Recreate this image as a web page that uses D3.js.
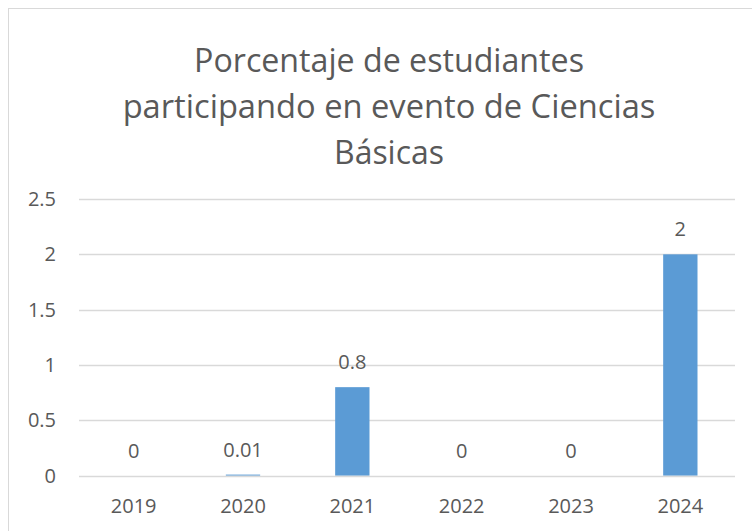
<!DOCTYPE html>
<html lang="es">
<head>
<meta charset="UTF-8">
<title>Porcentaje de estudiantes participando en evento de Ciencias Básicas</title>
<script src="https://cdnjs.cloudflare.com/ajax/libs/d3/7.8.5/d3.min.js"></script>
<style>
    body { margin: 0; background: #fff; overflow: hidden; }
    text { font-family: "Open Sans", "Noto Sans", sans-serif; fill: #595959; }
</style>
</head>
<body>
<div id="chart"></div>
<script>
// Data
const years = ["2019", "2020", "2021", "2022", "2023", "2024"];
const values = [0, 0.01, 0.8, 0, 0, 2];
const yTicks = [0, 0.5, 1, 1.5, 2, 2.5];
const titleLines = ["Porcentaje de estudiantes", "participando en evento de Ciencias", "Básicas"];

const width = 752, height = 531;
const plot = { left: 79, right: 735, top: 199, bottom: 475.7 };

const svg = d3.select("#chart").append("svg")
    .attr("width", width)
    .attr("height", height);

// chart frame (runs off right and bottom)
svg.append("rect")
    .attr("x", 8.5).attr("y", 8.5)
    .attr("width", 800).attr("height", 600)
    .attr("fill", "#fff")
    .attr("stroke", "#d9d9d9");

// title, each line sized to the width seen in the picture
const titleWidths = [390, 533, 110];
titleLines.forEach((line, i) => {
    const t = svg.append("text")
        .attr("x", 389)
        .attr("y", 72 + i * 46)
        .attr("text-anchor", "middle")
        .style("font-size", "30px")
        .text(line);
    const w = t.node().getComputedTextLength();
    t.style("font-size", (30 * titleWidths[i] / w).toFixed(2) + "px");
});

const x = d3.scaleBand()
    .domain(years)
    .range([plot.left, plot.right])
    .paddingInner(0.686)
    .paddingOuter(0.343);

const y = d3.scaleLinear()
    .domain([0, 2.5])
    .range([plot.bottom, plot.top]);

// gridlines (zero line drawn later, over the bars)
const grid = svg.append("g");
grid.selectAll("line")
    .data(yTicks.filter(d => d > 0))
    .join("line")
    .attr("x1", plot.left).attr("x2", plot.right)
    .attr("y1", d => Math.round(y(d)) + 0.5)
    .attr("y2", d => Math.round(y(d)) + 0.5)
    .attr("stroke", "#d9d9d9")
    .attr("stroke-width", 1.3);

// y axis labels
const yAxis = d3.axisLeft(y).tickValues(yTicks).tickSize(0).tickPadding(0)
    .tickFormat(d3.format("~g"));
svg.append("g")
    .attr("transform", `translate(56,0)`)
    .call(yAxis)
    .call(g => g.select(".domain").remove())
    .selectAll("text")
    .style("font-size", "20px")
    .attr("fill", "#595959");

// x axis labels
const xAxis = d3.axisBottom(x).tickSize(0).tickPadding(0);
svg.append("g")
    .attr("transform", `translate(0,${plot.bottom + 23})`)
    .call(xAxis)
    .call(g => g.select(".domain").remove())
    .selectAll("text")
    .style("font-size", "20px")
    .attr("fill", "#595959");

// bars
svg.append("g")
    .selectAll("rect")
    .data(values)
    .join("rect")
    .attr("x", (d, i) => x(years[i]))
    .attr("y", d => y(d))
    .attr("width", x.bandwidth())
    .attr("height", d => y(0) - y(d))
    .attr("fill", "#5b9bd5");

// category axis line
svg.append("line")
    .attr("x1", plot.left).attr("x2", plot.right)
    .attr("y1", Math.round(y(0)) + 0.5)
    .attr("y2", Math.round(y(0)) + 0.5)
    .attr("stroke", "#d9d9d9")
    .attr("stroke-width", 1.6);

// data labels
svg.append("g")
    .selectAll("text")
    .data(values)
    .join("text")
    .attr("x", (d, i) => x(years[i]) + x.bandwidth() / 2)
    .attr("y", d => y(d) - 18)
    .attr("text-anchor", "middle")
    .style("font-size", "20px")
    .text(d => d3.format("~g")(d));
</script>
</body>
</html>
